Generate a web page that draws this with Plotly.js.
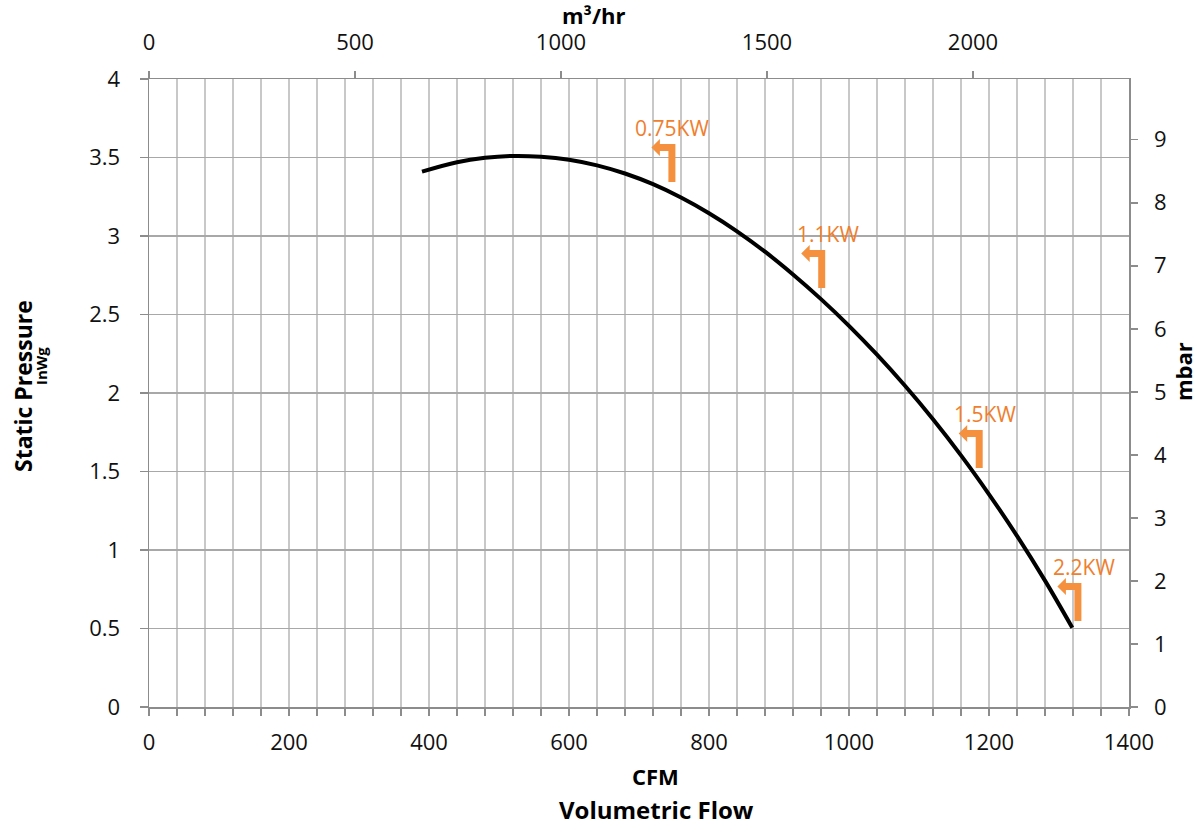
<!DOCTYPE html>
<html>
<head>
<meta charset="utf-8">
<script src="https://cdn.plot.ly/plotly-3.0.1.min.js"></script>
<style>html,body{margin:0;padding:0;background:#fff;}#chart{width:1197px;height:827px;}</style>
</head>
<body>
<div id="chart"></div>
<script>
// Fan curve: volumetric flow (CFM) vs static pressure (inWg)
const flowCFM = [390, 440, 480, 520, 560, 600, 640, 680, 720, 760, 800, 840, 880, 920, 960, 1000, 1040, 1080, 1120, 1160, 1200, 1240, 1280, 1319];
const pressureInWg = [3.41, 3.47, 3.498, 3.51, 3.505, 3.486, 3.45, 3.398, 3.33, 3.245, 3.145, 3.03, 2.90, 2.755, 2.598, 2.428, 2.244, 2.046, 1.833, 1.603, 1.355, 1.09, 0.805, 0.505];

// Motor power markers
const kwLabels = ["0.75KW", "1.1KW", "1.5KW", "2.2KW"];
const kwCFM = [747, 961, 1186, 1327];
const kwInWg = [3.344, 2.669, 1.522, 0.548];

// Unit conversions for the secondary axes
const CFM_TO_M3H = 1.69901;
const INWG_TO_MBAR = 2.49089;

const X_MAX = 1400, Y_MAX = 4;
const FONT = "Open Sans, Noto Sans, sans-serif";
const AXIS_COLOR = "#8c8c8c";
const ORANGE_TEXT = "#ef7f2f";
const ORANGE_ARROW = "#f5913e";

const L = 149, R = 68, T = 79, B = 120, W = 1197, H = 827;
const PW = W - L - R, PH = H - T - B;
const px2x = px => (px - L) / PW;
const py2y = py => (H - B - py) / PH;

const traces = [
  {
    x: flowCFM, y: pressureInWg, type: "scatter", mode: "lines",
    line: {color: "#000000", width: 4, shape: "spline", smoothing: 1},
    xaxis: "x", yaxis: "y", hoverinfo: "x+y", showlegend: false
  },
  {
    x: flowCFM.map(v => v * CFM_TO_M3H), y: pressureInWg.map(v => v * INWG_TO_MBAR),
    type: "scatter", mode: "lines", line: {color: "rgba(0,0,0,0)", width: 0},
    xaxis: "x2", yaxis: "y2", hoverinfo: "skip", showlegend: false
  }
];

const arrowPath = "M 3.5 0 L 3.5 38 L -12 38 L -12 43 L -20.5 34.5 L -12 26 L -12 31 L -3.5 31 L -3.5 0 Z";

const shapes = kwCFM.map((c, i) => ({
  type: "path", xref: "x", yref: "y", xsizemode: "pixel", ysizemode: "pixel",
  xanchor: c, yanchor: kwInWg[i], path: arrowPath,
  fillcolor: ORANGE_ARROW, line: {width: 0}, layer: "above"
}));

const annotations = kwLabels.map((t, i) => ({
  text: t, x: kwCFM[i], y: kwInWg[i], xref: "x", yref: "y",
  xanchor: "right", yanchor: "middle", xshift: 39, yshift: 54, showarrow: false,
  font: {family: FONT, size: 21, color: ORANGE_TEXT}
}));

const titleFont = (s) => ({family: FONT, size: s, color: "#000000", weight: "bold"});
annotations.push(
  {text: "<b>Static Pressure</b>", xref: "paper", yref: "paper", x: px2x(23), y: py2y(386), textangle: -90,
   xanchor: "center", yanchor: "middle", showarrow: false, font: titleFont(23)},
  {text: "<b>InWg</b>", xref: "paper", yref: "paper", x: px2x(41), y: py2y(366), textangle: -90,
   xanchor: "center", yanchor: "middle", showarrow: false, font: titleFont(15)},
  {text: "<b>CFM</b>", xref: "paper", yref: "paper", x: px2x(655), y: py2y(776),
   xanchor: "center", yanchor: "middle", showarrow: false, font: titleFont(22)},
  {text: "<b>Volumetric Flow</b>", xref: "paper", yref: "paper", x: px2x(656), y: py2y(810),
   xanchor: "center", yanchor: "middle", showarrow: false, font: titleFont(24)},
  {text: "<b>m³/hr</b>", xref: "paper", yref: "paper", x: px2x(593), y: py2y(15),
   xanchor: "center", yanchor: "middle", showarrow: false, font: titleFont(22)},
  {text: "<b>mbar</b>", xref: "paper", yref: "paper", x: px2x(1183), y: py2y(372), textangle: -90,
   xanchor: "center", yanchor: "middle", showarrow: false, font: titleFont(22)}
);

const tickFont = {family: FONT, size: 22, color: "#111111"};

const layout = {
  width: W, height: H,
  margin: {l: L, r: R, t: T, b: B, pad: 0},
  paper_bgcolor: "#ffffff", plot_bgcolor: "#ffffff",
  showlegend: false,
  xaxis: {
    range: [0, X_MAX], tick0: 0, dtick: 200, ticks: "outside", ticklen: 7, tickwidth: 1.5,
    tickcolor: AXIS_COLOR, showline: true, linecolor: AXIS_COLOR, linewidth: 1.5,
    showgrid: true, gridcolor: "#c8c8c8", gridwidth: 1.5, zeroline: false,
    minor: {dtick: 40, tick0: 0, ticks: "outside", ticklen: 7, tickwidth: 1.5, tickcolor: AXIS_COLOR,
            showgrid: true, gridcolor: "#c8c8c8", gridwidth: 1.5},
    tickfont: tickFont, ticklabelstandoff: 8, fixedrange: true
  },
  yaxis: {
    range: [0, Y_MAX], tick0: 0, dtick: 0.5, ticks: "outside", ticklen: 8, tickwidth: 1.5,
    tickcolor: AXIS_COLOR, showline: true, linecolor: AXIS_COLOR, linewidth: 1.5,
    showgrid: true, gridcolor: "#a8a8a8", gridwidth: 1.5, zeroline: false,
    tickfont: tickFont, ticklabelstandoff: 15, fixedrange: true
  },
  xaxis2: {
    overlaying: "x", side: "top", anchor: "y",
    range: [0, X_MAX * CFM_TO_M3H], tick0: 0, dtick: 500, ticks: "outside", ticklen: 7, tickwidth: 1.5,
    tickcolor: AXIS_COLOR, showline: true, linecolor: AXIS_COLOR, linewidth: 1.5,
    showgrid: false, zeroline: false, tickfont: tickFont, ticklabelstandoff: 12, fixedrange: true
  },
  yaxis2: {
    overlaying: "y", side: "right", anchor: "x",
    range: [0, Y_MAX * INWG_TO_MBAR], tick0: 0, dtick: 1, ticks: "outside", ticklen: 7, tickwidth: 1.5,
    tickcolor: AXIS_COLOR, showline: true, linecolor: AXIS_COLOR, linewidth: 1.5,
    showgrid: false, zeroline: false, tickfont: tickFont, ticklabelstandoff: 12, fixedrange: true
  },
  shapes: shapes,
  annotations: annotations
};

Plotly.newPlot("chart", traces, layout, {displayModeBar: false, staticPlot: true});
</script>
</body>
</html>
